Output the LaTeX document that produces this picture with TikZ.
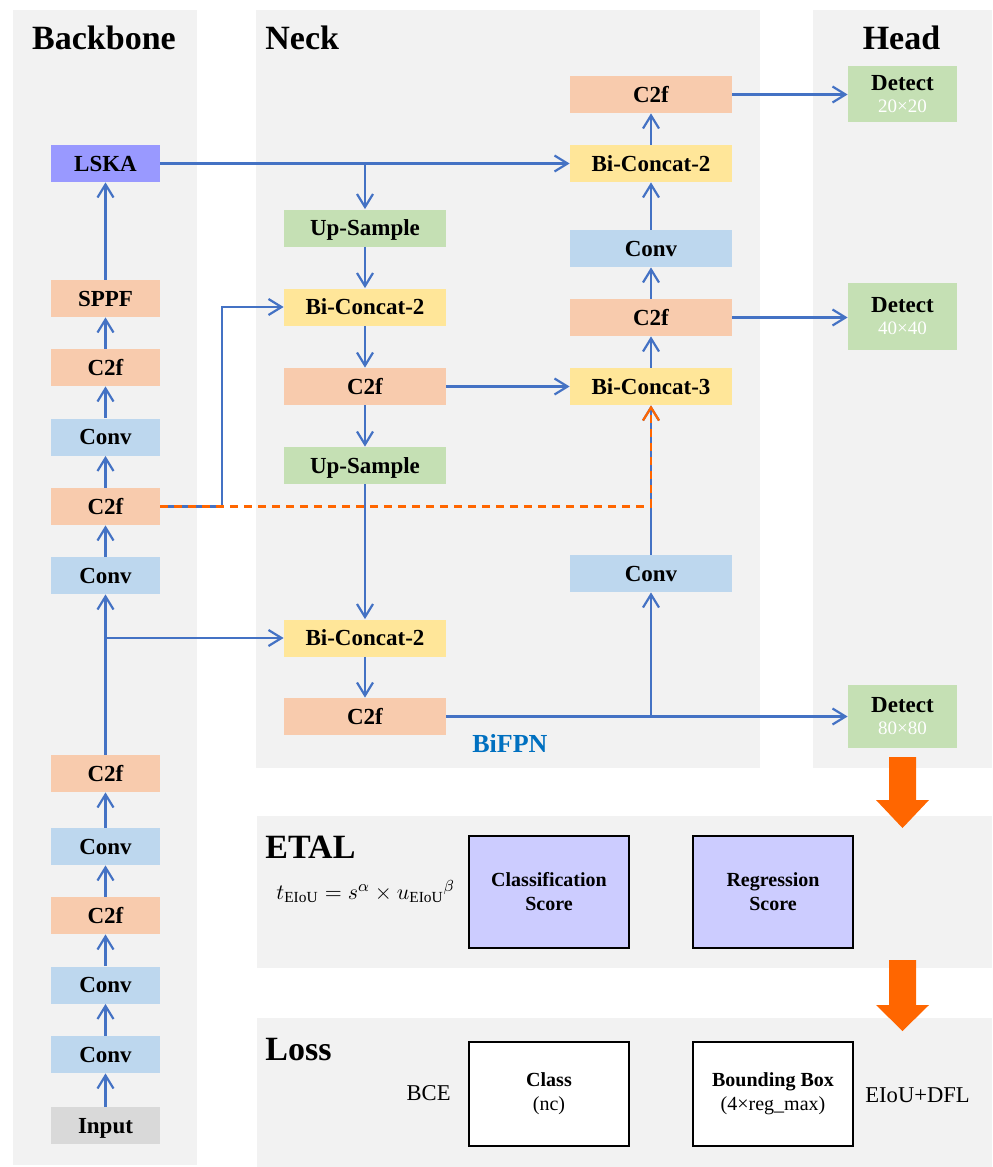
\documentclass[tikz,border=0pt]{standalone}
\usepackage{fontspec}
\setmainfont{Liberation Serif}
\usetikzlibrary{arrows.meta}
\definecolor{panelgray}{HTML}{F2F2F2}
\definecolor{convblue}{HTML}{BDD7EE}
\definecolor{ctwoforange}{HTML}{F8CBAD}
\definecolor{concatyellow}{HTML}{FFE699}
\definecolor{samplegreen}{HTML}{C5E0B4}
\definecolor{lskaviolet}{HTML}{9999FF}
\definecolor{inputgray}{HTML}{D9D9D9}
\definecolor{scorelilac}{HTML}{CCCCFF}
\definecolor{linkblue}{HTML}{4472C4}
\definecolor{skiporange}{HTML}{FF6600}
\definecolor{bifpnblue}{HTML}{0070C0}
\begin{document}
\begin{tikzpicture}[x=0.5pt,y=-0.5pt,
	blk/.style={inner sep=0pt,minimum height=18.5pt,font=\fontsize{11.5}{13}\selectfont\bfseries},
	bb/.style={blk,text height=7.7pt,text depth=0pt,minimum width=54.5pt},
	nk/.style={blk,text height=7.7pt,text depth=0pt,minimum width=81pt},
	det/.style={blk,minimum width=54.5pt,fill=samplegreen,align=center},
	conn/.style={draw=linkblue,line width=1.1pt,-{Straight Barb[length=6.5pt,width=8pt]}},
	skipline/.style={draw=skiporange,line width=1.1pt,dash pattern=on 4pt off 3pt,-{Straight Barb[length=6.5pt,width=8pt]}},
	title/.style={inner sep=0pt,font=\fontsize{17}{20}\selectfont\bfseries},
	score/.style={draw=black,line width=1pt,inner sep=0pt,minimum width=80pt,align=center,font=\fontsize{10}{12}\selectfont}]
	\useasboundingbox (0,0) rectangle (992,1167);
	% panels
	\fill[panelgray] (13,10) rectangle (197,1165);
	\fill[panelgray] (256,10) rectangle (760,768);
	\fill[panelgray] (813,10) rectangle (992,768);
	\fill[panelgray] (257,816) rectangle (992,968);
	\fill[panelgray] (257,1018) rectangle (992,1167);
	\node[title,anchor=base] (tbackbone) at (104,49.5) {Backbone};
	\node[title,anchor=base west] (tneck) at (265,49.5) {Neck};
	\node[title,anchor=base] (thead) at (901.5,49.5) {Head};
	\node[title,anchor=base west] (tetal) at (265,858) {ETAL};
	\node[title,anchor=base west] (tloss) at (265,1060) {Loss};
	\node[inner sep=0pt,anchor=base west,text=bifpnblue,font=\fontsize{13}{15}\selectfont\bfseries] (tbifpn) at (472,752) {BiFPN};
	% backbone
	\node[bb,fill=inputgray] (input) at (105.5,1125.5) {Input};
	\node[bb,fill=convblue] (bconva) at (105.5,1054.5) {Conv};
	\node[bb,fill=convblue] (bconvb) at (105.5,985) {Conv};
	\node[bb,fill=ctwoforange] (bctwofa) at (105.5,915.5) {C2f};
	\node[bb,fill=convblue] (bconvc) at (105.5,846.5) {Conv};
	\node[bb,fill=ctwoforange] (bctwofb) at (105.5,773.5) {C2f};
	\node[bb,fill=convblue] (bconvd) at (105.5,575.5) {Conv};
	\node[bb,fill=ctwoforange] (bctwofc) at (105.5,506.5) {C2f};
	\node[bb,fill=convblue] (bconve) at (105.5,437) {Conv};
	\node[bb,fill=ctwoforange] (bctwofd) at (105.5,367.5) {C2f};
	\node[bb,fill=ctwoforange] (sppf) at (105.5,298.5) {SPPF};
	\node[bb,fill=lskaviolet] (lska) at (105.5,163.5) {LSKA};
	% neck
	\node[nk,fill=samplegreen] (nupa) at (365,228) {Up-Sample};
	\node[nk,fill=concatyellow] (ncata) at (365,307) {Bi-Concat-2};
	\node[nk,fill=ctwoforange] (nctwofa) at (365,386.5) {C2f};
	\node[nk,fill=samplegreen] (nupb) at (365,465.5) {Up-Sample};
	\node[nk,fill=concatyellow] (ncatb) at (365,638) {Bi-Concat-2};
	\node[nk,fill=ctwoforange] (nctwofb) at (365,716.5) {C2f};
	\node[nk,fill=convblue] (pconva) at (651,573.5) {Conv};
	\node[nk,fill=concatyellow] (pcatc) at (651,386.5) {Bi-Concat-3};
	\node[nk,fill=ctwoforange] (pctwofa) at (651,317.5) {C2f};
	\node[nk,fill=convblue] (pconvb) at (651,248.5) {Conv};
	\node[nk,fill=concatyellow] (pcatb) at (651,163.5) {Bi-Concat-2};
	\node[nk,fill=ctwoforange] (pctwofb) at (651,94.5) {C2f};
	% head
	\node[det,minimum height=28pt] (dettw) at (902.5,94) {Detect\\[-2pt]{\fontsize{9.5}{11}\selectfont\mdseries\color{white}20×20}};
	\node[det,minimum height=33.5pt] (detfo) at (902.5,316.5) {Detect\\[-2pt]{\fontsize{9.5}{11}\selectfont\mdseries\color{white}40×40}};
	\node[det,minimum height=31.5pt] (detei) at (902.5,716.5) {Detect\\[-2pt]{\fontsize{9.5}{11}\selectfont\mdseries\color{white}80×80}};
	% backbone links
	\foreach \a/\b in {input/bconva,bconva/bconvb,bconvb/bctwofa,bctwofa/bconvc,bconvc/bctwofb,bctwofb/bconvd,bconvd/bctwofc,bctwofc/bconve,bconve/bctwofd,bctwofd/sppf,sppf/lska}
		\draw[conn] (\a) -- (\b);
	% neck links
	\foreach \a/\b in {nupa/ncata,ncata/nctwofa,nctwofa/nupb,nupb/ncatb,ncatb/nctwofb,pconva/pcatc,pcatc/pctwofa,pctwofa/pconvb,pconvb/pcatb,pcatb/pctwofb}
		\draw[conn] (\a) -- (\b);
	\coordinate (tapbone) at (bctwofb |- ncatb);
	\draw[conn] (tapbone) -- (ncatb);
	\coordinate (bendup) at (222,506.5);
	\draw[conn] (bctwofc.east) -- (bendup) |- (ncata.west);
	\draw[conn] (lska) -- (pcatb);
	\draw[conn] (nupa |- lska) -- (nupa);
	\draw[conn] (nctwofa) -- (pcatc);
	\draw[conn] (nctwofb.east) -- (nctwofb.east -| detei.west);
	\draw[conn] (pconva |- nctwofb) -- (pconva);
	\draw[skipline] (bctwofc.east) -| (pcatc.south);
	\draw[conn] (pctwofb.east) -- (pctwofb.east -| dettw.west);
	\draw[conn] (pctwofa.east) -- (pctwofa.east -| detfo.west);
	% etal and loss
	\node[score,fill=scorelilac,minimum height=56pt,font=\fontsize{10}{12}\selectfont\bfseries] (clsscore) at (549,892) {Classification\\Score};
	\node[score,fill=scorelilac,minimum height=56pt,font=\fontsize{10}{12}\selectfont\bfseries] (regscore) at (773,892) {Regression\\Score};
	\node[inner sep=0pt,anchor=base west,font=\fontsize{11}{13}\selectfont] (formula) at (276,899) {$t_{\mathrm{EIoU}}=s^{\alpha}\times u_{\mathrm{EIoU}}{}^{\beta}$};
	\node[score,fill=white,minimum height=52pt] (clsbox) at (549,1094) {\textbf{Class}\\(nc)};
	\node[score,fill=white,minimum height=52pt] (bbox) at (773,1094) {\textbf{Bounding Box}\\(4×reg\_max)};
	\node[inner sep=0pt,anchor=east,font=\fontsize{11.3}{13}\selectfont] (bce) at (451,1093) {BCE};
	\node[inner sep=0pt,anchor=west,font=\fontsize{11.3}{13}\selectfont] (eioudfl) at (865,1095) {EIoU+DFL};
	\foreach \ys/\yh/\yt in {757/800/828,960/1005/1031}
		\fill[skiporange] (889,\ys) -- (916,\ys) -- (916,\yh) -- (929,\yh) -- (902.5,\yt) -- (876,\yh) -- (889,\yh) -- cycle;
\end{tikzpicture}
\end{document}
